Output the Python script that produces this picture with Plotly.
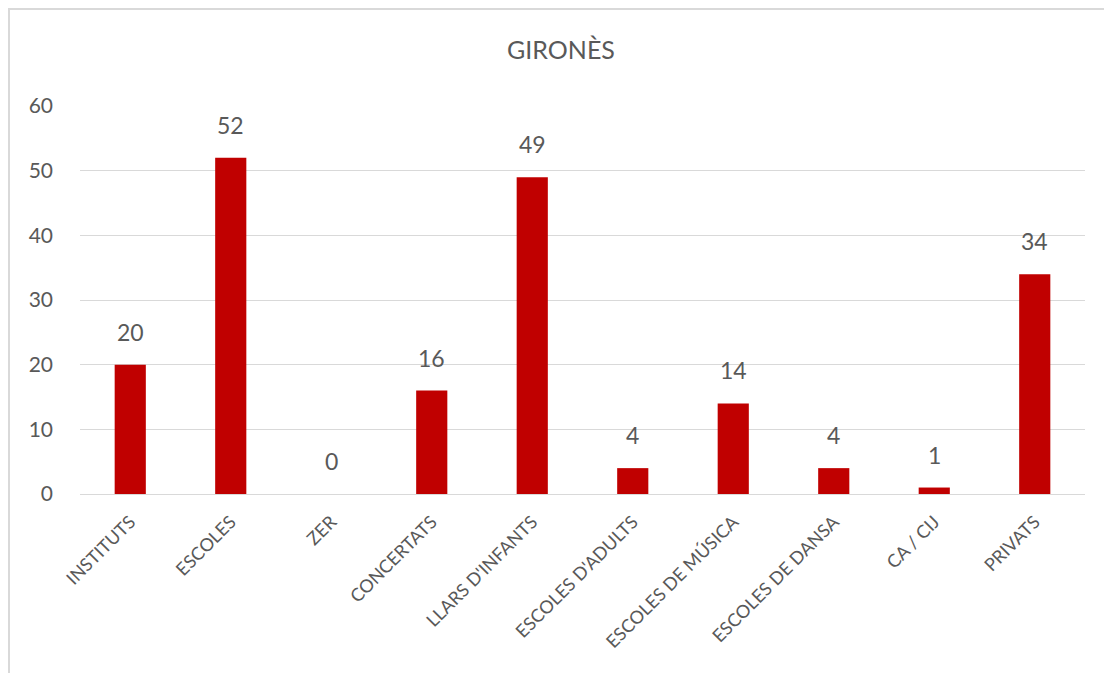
import plotly.graph_objects as go

categories = ["INSTITUTS", "ESCOLES", "ZER", "CONCERTATS", "LLARS D'INFANTS",
              "ESCOLES D'ADULTS", "ESCOLES DE MÚSICA", "ESCOLES DE DANSA",
              "CA / CIJ", "PRIVATS"]
values = [20, 52, 0, 16, 49, 4, 14, 4, 1, 34]
y_ticks = [0, 10, 20, 30, 40, 50, 60]

# page body has an 8px margin, so the figure is a bit smaller than the window
W, H = 1104, 665
L, R, T, B = 72, 27, 98, 179
pw, ph = W - L - R, H - T - B

text_col = "#595959"
grid_col = "#d9d9d9"
font = "Lato, 'Open Sans', sans-serif"

fig = go.Figure()
fig.add_trace(go.Bar(
    x=categories, y=values,
    marker=dict(color="#C00000", line=dict(width=0)),
    hoverinfo="x+y",
))

# data labels above bars
for c, v in zip(categories, values):
    fig.add_annotation(x=c, y=v, text=str(v), showarrow=False,
                       yanchor="bottom", yshift=17,
                       font=dict(family=font, size=23, color=text_col))

# chart frame (Excel-style border)
fig.add_shape(type="rect", xref="paper", yref="paper",
              x0=(1 - L) / pw, x1=(W + 5 - L) / pw,
              y0=(H - B - (H + 5)) / ph, y1=(H - B - 1) / ph,
              line=dict(color=grid_col, width=2), fillcolor="rgba(0,0,0,0)")

fig.update_layout(
    width=W, height=H,
    margin=dict(l=L, r=R, t=T, b=B, autoexpand=False),
    paper_bgcolor="white", plot_bgcolor="white",
    bargap=0.69,
    showlegend=False,
    title=dict(text="GIRONÈS", x=553 / W, xanchor="center",
               y=1 - 42 / H, yanchor="middle",
               font=dict(family=font, size=25, color=text_col)),
    font=dict(family=font, color=text_col),
)
fig.update_xaxes(
    tickangle=-45, tickfont=dict(size=18, color=text_col),
    showline=False, ticks="", ticklabelstandoff=13,
    showgrid=False,
)
fig.update_yaxes(
    range=[0, 60], tickvals=y_ticks, ticks="",
    tickfont=dict(size=21, color=text_col),
    showgrid=True, gridcolor=grid_col, gridwidth=1,
    zeroline=True, zerolinecolor=grid_col, zerolinewidth=1,
    ticklabelstandoff=26, showline=False,
)

fig.write_html("out.html")
